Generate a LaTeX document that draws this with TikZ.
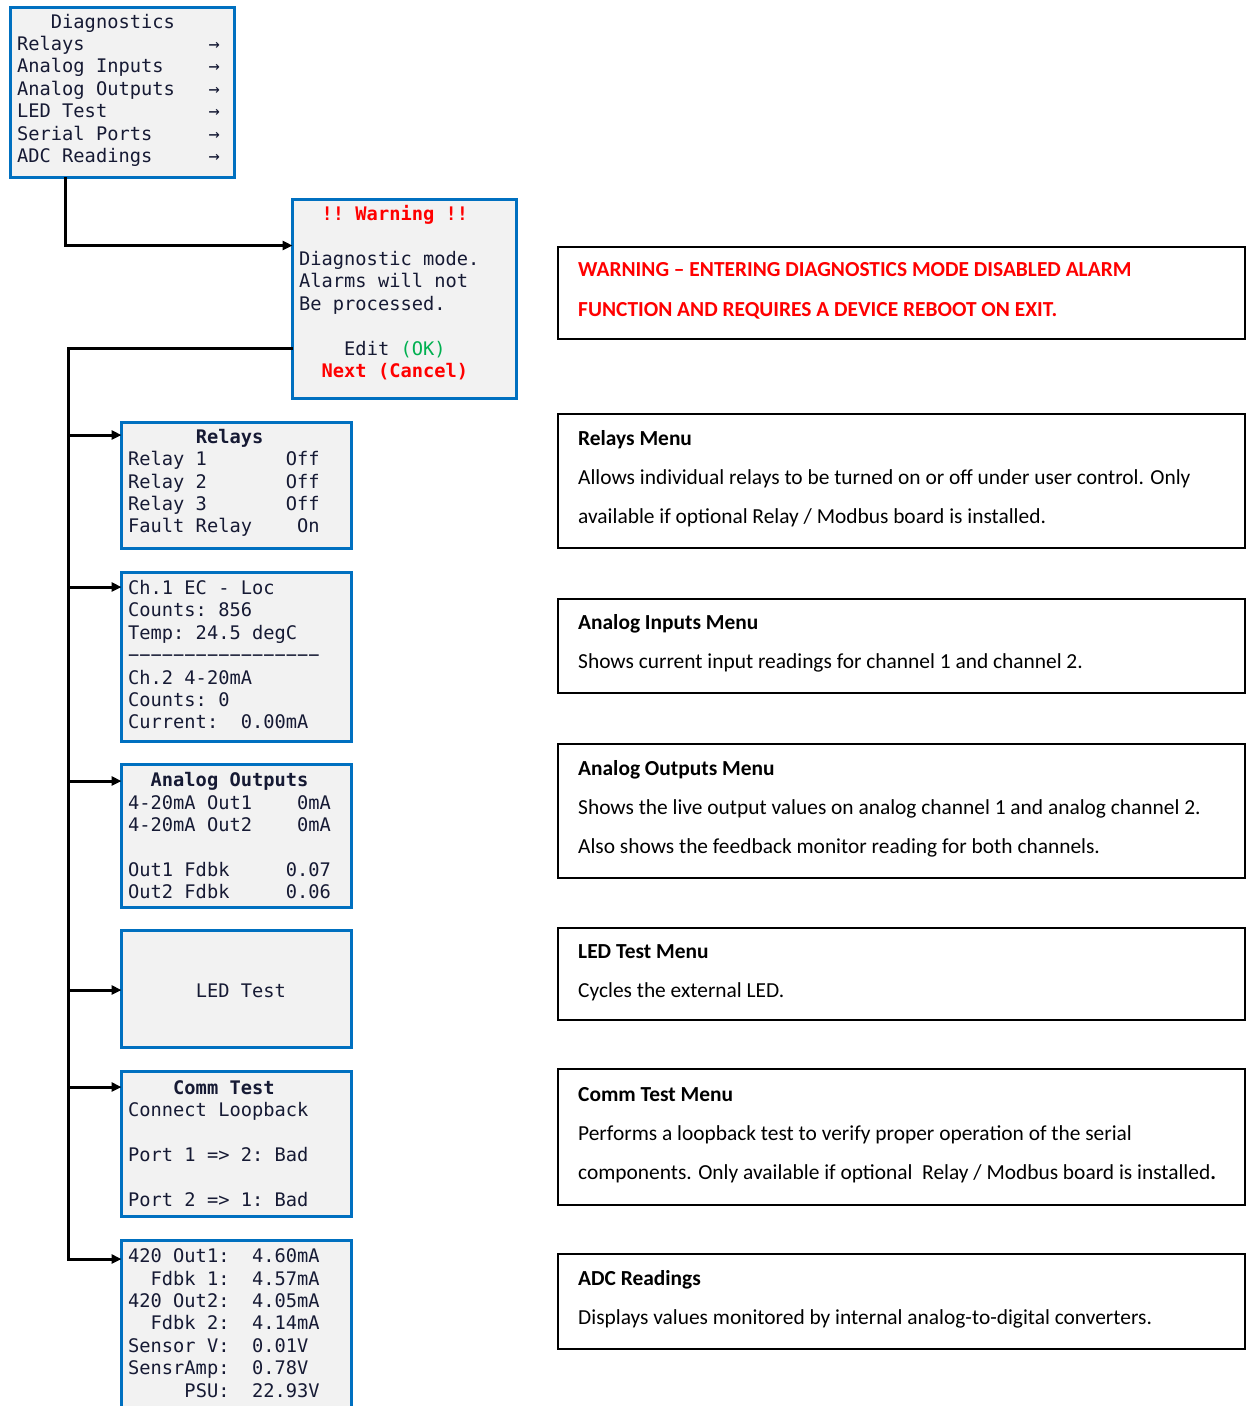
\documentclass[tikz,border=0pt]{standalone}
\usepackage{fontspec}
\setmonofont{DejaVu Sans Mono}
\setsansfont{Carlito}
\usepackage{xcolor}
\usetikzlibrary{arrows.meta}
\usetikzlibrary{calc}

\definecolor{lcdblue}{RGB}{0,112,192}
\definecolor{lcdgray}{RGB}{242,242,242}
\definecolor{lcdink}{RGB}{22,26,52}
\definecolor{alarmred}{RGB}{255,0,0}
\definecolor{okgreen}{RGB}{0,176,80}
\newcommand\pad[1]{\hbox to #1\fontcharwd\font`x{}}

\begin{document}
\begin{tikzpicture}[x=1pt, y=-1pt,
    lcd/.style={draw=lcdblue, line width=3pt, fill=lcdgray, anchor=north west,
      inner sep=0pt, outer sep=0pt, minimum width=229.5pt},
    lcdtext/.style={anchor=west, inner sep=0pt, align=left, text=lcdink,
      font=\ttfamily\fontsize{18.7}{22.4}\selectfont},
    note/.style={draw=black, line width=2pt, anchor=north west,
      inner sep=0pt, outer sep=0pt, minimum width=687pt},
    notetext/.style={anchor=west, inner sep=0pt, align=left,
      font=\sffamily\fontsize{21.4}{39}\selectfont},
    alarmtext/.style={notetext, text=alarmred,
      font=\sffamily\bfseries\fontsize{21.4}{40}\selectfont},
    link/.style={line width=3pt, -{Triangle[length=10pt,width=9pt]}}]

\useasboundingbox (0,0) rectangle (1246,1406);

% menu screens
\node[lcd, minimum width=223.5pt, minimum height=169.5pt] (diag) at (10.5,7.5) {};
\node[lcdtext] (diagtxt) at ([xshift=6.5pt,yshift=2pt]diag.west)
  {\pad{3}Diagnostics\\
   Relays\pad{11}→\\
   Analog Inputs\pad{4}→\\
   Analog Outputs\pad{3}→\\
   LED Test\pad{9}→\\
   Serial Ports\pad{5}→\\
   ADC Readings\pad{5}→};

\node[lcd, minimum width=223.5pt, minimum height=198.5pt] (warn) at (292.5,199.5) {};
\node[lcdtext] (warntxt) at ([xshift=6.5pt,yshift=6pt]warn.west)
  {\pad{2}\textcolor{alarmred}{\bfseries !! Warning !!}\\
   \mbox{}\\
   Diagnostic mode.\\
   Alarms will not\\
   Be processed.\\
   \mbox{}\\
   \pad{4}Edit \textcolor{okgreen}{(OK)}\\
   \pad{2}\textcolor{alarmred}{\bfseries Next (Cancel)}};

\node[lcd, minimum height=126pt] (relays) at (121.5,422) {};
\node[lcdtext] (relaystxt) at ([xshift=6.5pt,yshift=2pt]relays.west)
  {\pad{6}\textbf{Relays}\\
   Relay 1\pad{7}Off\\
   Relay 2\pad{7}Off\\
   Relay 3\pad{7}Off\\
   Fault Relay\pad{4}On};

\node[lcd, minimum height=169.5pt] (ainputs) at (121.5,572) {};
\node[lcdtext] (ainputstxt) at ([xshift=6.5pt,yshift=2pt]ainputs.west)
  {Ch.1 EC - Loc\\
   Counts: 856\\
   Temp: 24.5 degC\\
   −−−−−−−−−−−−−−−−−\\
   Ch.2 4-20mA\\
   Counts: 0\\
   Current:\pad{2}0.00mA};

\node[lcd, minimum height=143.5pt] (aoutputs) at (121.5,764) {};
\node[lcdtext] (aoutputstxt) at ([xshift=6.5pt]aoutputs.west)
  {\pad{2}\textbf{Analog Outputs}\\
   4-20mA Out1\pad{4}0mA\\
   4-20mA Out2\pad{4}0mA\\
   \mbox{}\\
   Out1 Fdbk\pad{5}0.07\\
   Out2 Fdbk\pad{5}0.06};

\node[lcd, minimum height=117.5pt] (ledtest) at (121.5,930) {};
\node[lcdtext] (ledtesttxt) at ([xshift=6.5pt,yshift=-2pt]ledtest.west) {\pad{6}LED Test};

\node[lcd, minimum height=145.5pt] (commtest) at (121.5,1071) {};
\node[lcdtext] (commtesttxt) at ([xshift=6.5pt]commtest.west)
  {\pad{4}\textbf{Comm Test}\\
   Connect Loopback\\
   \mbox{}\\
   Port 1 => 2: Bad\\
   \mbox{}\\
   Port 2 => 1: Bad};

\node[lcd, minimum height=172pt] (adc) at (121.5,1240) {};
\node[lcdtext] (adctxt) at ([xshift=6.5pt,yshift=3pt]adc.west)
  {420 Out1:\pad{2}4.60mA\\
   \pad{2}Fdbk 1:\pad{2}4.57mA\\
   420 Out2:\pad{2}4.05mA\\
   \pad{2}Fdbk 2:\pad{2}4.14mA\\
   Sensor V:\pad{2}0.01V\\
   SensrAmp:\pad{2}0.78V\\
   \pad{5}PSU:\pad{2}22.93V};

% descriptions
\node[note, minimum height=91.5pt] (warnnote) at (558,247) {};
\node[alarmtext] (warnnotetxt) at ([xshift=20pt,yshift=1.5pt]warnnote.west)
  {WARNING – ENTERING DIAGNOSTICS MODE DISABLED ALARM\\
   FUNCTION AND REQUIRES A DEVICE REBOOT ON EXIT.};

\node[note, minimum height=134pt] (relaysnote) at (558,414) {};
\node[notetext] (relaysnotetxt) at ([xshift=20pt,yshift=2pt]relaysnote.west)
  {\textbf{Relays Menu}\\
   Allows individual relays to be turned on or off under user control. Only\\
   available if optional Relay / Modbus board is installed.};

\node[note, minimum height=93.5pt] (ainputsnote) at (558,599) {};
\node[notetext] (ainputsnotetxt) at ([xshift=20pt,yshift=2pt]ainputsnote.west)
  {\textbf{Analog Inputs Menu}\\
   Shows current input readings for channel 1 and channel 2.};

\node[note, minimum height=134pt] (aoutputsnote) at (558,744) {};
\node[notetext] (aoutputsnotetxt) at ([xshift=20pt,yshift=2pt]aoutputsnote.west)
  {\textbf{Analog Outputs Menu}\\
   Shows the live output values on analog channel 1 and analog channel 2.\\
   Also shows the feedback monitor reading for both channels.};

\node[note, minimum height=92pt] (ledtestnote) at (558,928) {};
\node[notetext] (ledtestnotetxt) at ([xshift=20pt,yshift=1pt]ledtestnote.west)
  {\textbf{LED Test Menu}\\
   Cycles the external LED.};

\node[note, minimum height=136pt] (commtestnote) at (558,1069) {};
\node[notetext] (commtestnotetxt) at ([xshift=20pt,yshift=2pt]commtestnote.west)
  {\textbf{Comm Test Menu}\\
   Performs a loopback test to verify proper operation of the serial\\
   components. Only available if optional\ \ Relay / Modbus board is installed\textbf{.}};

\node[note, minimum height=95pt] (adcnote) at (558,1254) {};
\node[notetext] (adcnotetxt) at ([xshift=20pt,yshift=2pt]adcnote.west)
  {\textbf{ADC Readings}\\
   Displays values monitored by internal analog-to-digital converters.};

% connectors
\coordinate (diag-out) at ($(diag.south west)+(54.5,0)$);
\coordinate (warn-in) at ($(warn.north west)+(0,46)$);
\draw[link] (diag-out) |- (warn-in);

\coordinate (warn-out) at ($(warn.north west)+(0,149)$);
\coordinate (trunk) at ($(warn-out)+(-224,0)$);
\coordinate (adc-in) at ($(adc.north west)+(0,19)$);
\draw[link] (warn-out) -- (trunk) |- (adc-in);

\foreach \b/\d in {relays/13,ainputs/15,aoutputs/17,ledtest/60,commtest/16}{
  \coordinate (\b-in) at ($(\b.north west)+(0,\d)$);
  \draw[link] (trunk |- \b-in) -- (\b-in);
}
\end{tikzpicture}
\end{document}
